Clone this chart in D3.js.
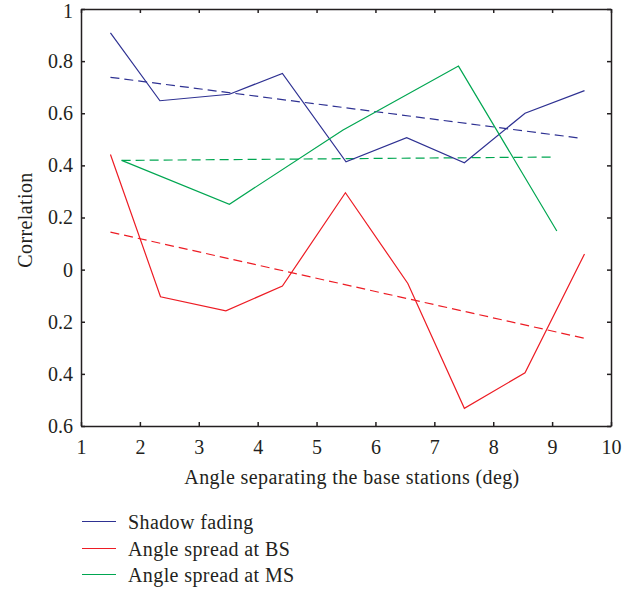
<!DOCTYPE html>
<html><head><meta charset="utf-8">
<script src="https://cdn.jsdelivr.net/npm/d3@7"></script>
<style>body{margin:0;background:#fff}svg{display:block}text{font-family:"Liberation Serif","Times New Roman",serif;fill:#231f20}</style>
</head><body><svg id="c" width="637" height="590"></svg>
<script>
const xTicks = [1,2,3,4,5,6,7,8,9,10];
const yTicks = [1,0.8,0.6,0.4,0.2,0,-0.2,-0.4,-0.6];
const yTickLabels = ["1","0.8","0.6","0.4","0.2","0","0.2","0.4","0.6"];

const shadowX = [1.50,2.34,3.52,4.42,5.50,6.53,7.51,8.54,9.55];
const shadowY = [0.908,0.648,0.673,0.753,0.414,0.506,0.410,0.600,0.687];
const shadowFitX = [1.50,9.49];
const shadowFitY = [0.738,0.504];

const bsX = [1.50,2.35,3.46,4.42,5.49,6.55,7.51,8.54,9.55];
const bsY = [0.442,-0.104,-0.158,-0.063,0.295,-0.053,-0.532,-0.396,0.060];
const bsFitX = [1.50,9.56];
const bsFitY = [0.144,-0.264];

const msX = [1.69,3.52,5.45,7.41,9.08];
const msY = [0.419,0.251,0.536,0.781,0.148];
const msFitX = [1.69,9.05];
const msFitY = [0.419,0.432];

const seriesNames = ["Shadow fading","Angle spread at BS","Angle spread at MS"];
const colors = ["#2e3192","#ed1c24","#00a651"];

const svg = d3.select("#c");
const x = d3.scaleLinear().domain([1,10]).range([81,611]);
const y = d3.scaleLinear().domain([-0.6,1]).range([426,9]);

const g = svg.append("g");
// axes
const axB = g.append("g").attr("transform","translate(0,426)")
  .call(d3.axisBottom(x).tickValues(xTicks).tickSizeInner(-4).tickSizeOuter(0).tickPadding(14).tickFormat(d3.format("d")));
const axT = g.append("g").attr("transform","translate(0,9)")
  .call(d3.axisTop(x).tickValues(xTicks).tickSizeInner(-4).tickSizeOuter(0).tickFormat(""));
const axL = g.append("g").attr("transform","translate(81,0)")
  .call(d3.axisLeft(y).tickValues(yTicks).tickSizeInner(-4).tickSizeOuter(0).tickPadding(8).tickFormat((d,i)=>yTickLabels[i]));
const axR = g.append("g").attr("transform","translate(611,0)")
  .call(d3.axisRight(y).tickValues(yTicks).tickSizeInner(-4).tickSizeOuter(0).tickFormat(""));
[axB,axT,axL,axR].forEach(a=>{
  a.select(".domain").attr("stroke","#231f20").attr("stroke-width",1.5);
  a.selectAll(".tick line").attr("stroke","#231f20").attr("stroke-width",1.5);
  a.selectAll("text").style("font-size","20px").attr("fill","#231f20");
});
axL.selectAll(".tick text").filter(d=>d===1).attr("dy","0.42em");

const line = d3.line().x(d=>x(d[0])).y(d=>y(d[1]));
const zip = (a,b)=>a.map((v,i)=>[v,b[i]]);
const solids = [zip(shadowX,shadowY), zip(bsX,bsY), zip(msX,msY)];
const fits = [zip(shadowFitX,shadowFitY), zip(bsFitX,bsFitY), zip(msFitX,msFitY)];
fits.forEach((d,i)=>g.append("path").attr("d",line(d)).attr("fill","none")
  .attr("stroke",colors[i]).attr("stroke-width",1.2).attr("stroke-dasharray","9,5"));
solids.forEach((d,i)=>g.append("path").attr("d",line(d)).attr("fill","none")
  .attr("stroke",colors[i]).attr("stroke-width",1.2));

// labels
svg.append("text").attr("x",352).attr("y",484).attr("text-anchor","middle")
  .style("font-size","20px").style("letter-spacing","0.4px").text("Angle separating the base stations (deg)");
svg.append("text").attr("transform","translate(32,220) rotate(-90)").attr("text-anchor","middle")
  .style("font-size","20px").style("letter-spacing","0.4px").text("Correlation");

// legend
seriesNames.forEach((n,i)=>{
  const ly = Math.round(521 + i*26.5) + 0.5;
  svg.append("line").attr("x1",82).attr("x2",116).attr("y1",ly).attr("y2",ly)
    .attr("stroke",colors[i]).attr("stroke-width",1.2);
  svg.append("text").attr("x",128).attr("y",ly+7).style("font-size","20px").style("letter-spacing","0.4px").text(n);
});
</script></body></html>
